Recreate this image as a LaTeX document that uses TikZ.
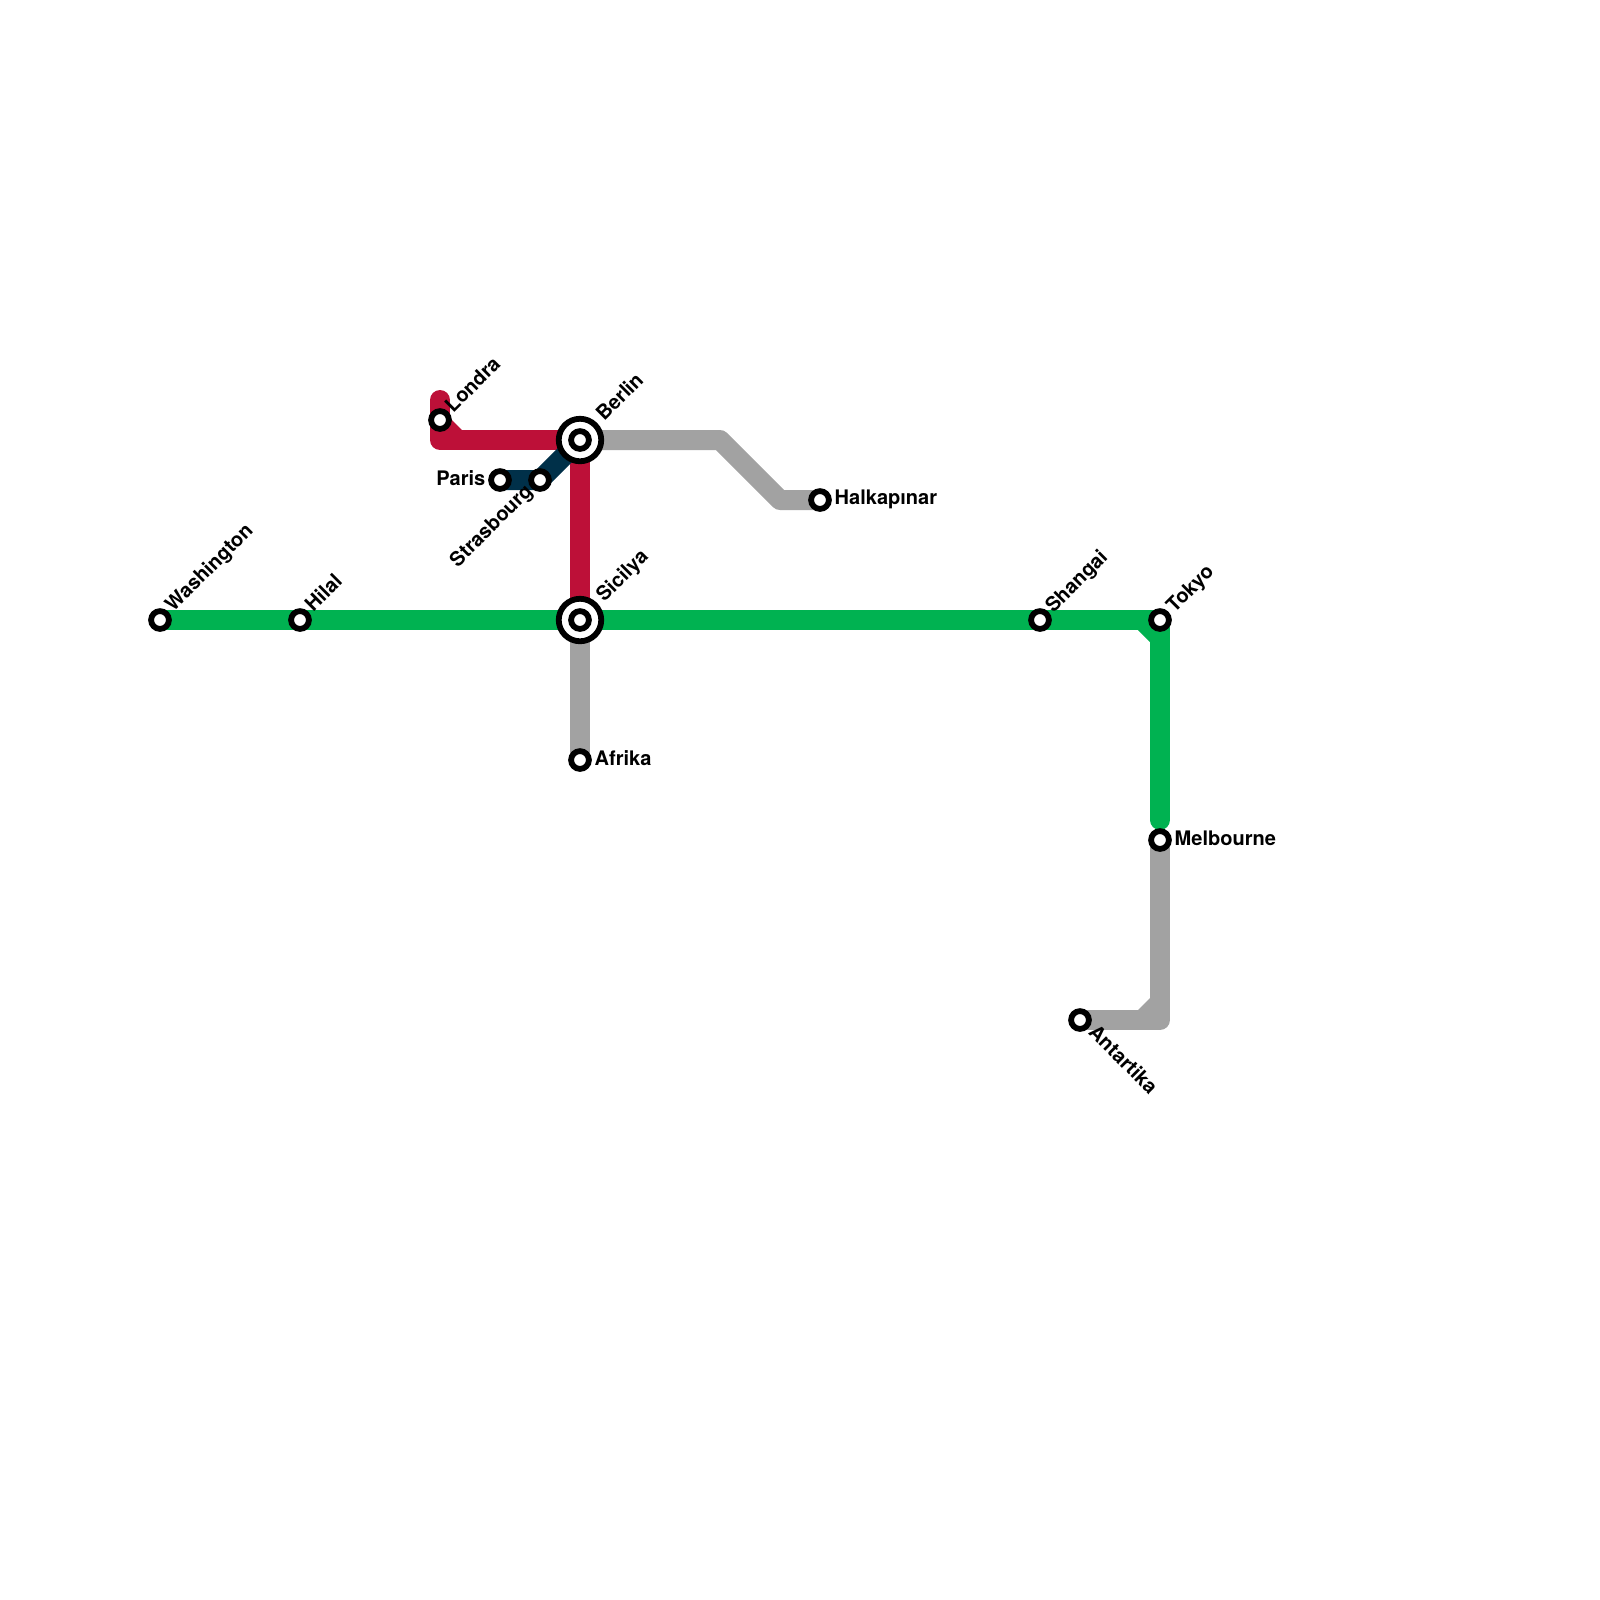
\documentclass[tikz,border=0pt]{standalone}
\usepackage{fontspec}
\setmainfont{TeX Gyre Heros}
\usetikzlibrary{backgrounds}

\definecolor{linered}{HTML}{BD1038}
\definecolor{linegreen}{HTML}{00B251}
\definecolor{linegray}{HTML}{A2A2A2}
\definecolor{linenavy}{HTML}{003049}

\tikzset{
  stop/.style={circle, draw=black, fill=white, line width=0.058cm, minimum size=0.178cm, inner sep=0pt},
  hub/.style={circle, draw=black, fill=white, line width=0.058cm, minimum size=0.425cm, inner sep=0pt},
  track/.style={line width=0.2cm, line join=round, line cap=round},
  stoplabel/.style={font=\fontsize{5.7}{6}\selectfont\bfseries, inner sep=0pt},
}

\begin{document}
\begin{tikzpicture}[x=0.2cm, y=-0.2cm]
  \useasboundingbox (0,0) rectangle (80,80);
  % Interchanges first, plain stops on top.
  \node[hub] (berlinring) at (29,22) {};
  \node[hub] (sicilyaring) at (29,31) {};
  \node[stop] (washington) at (8,31) {};
  \node[stop] (hilal) at (15,31) {};
  \node[stop] (sicilya) at (29,31) {};
  \node[stop] (shangai) at (52,31) {};
  \node[stop] (tokyo) at (58,31) {};
  \node[stop] (melbourne) at (58,42) {};
  \node[stop] (antartika) at (54,51) {};
  \node[stop] (afrika) at (29,38) {};
  \node[stop] (berlin) at (29,22) {};
  \node[stop] (londra) at (22,21) {};
  \node[stop] (paris) at (25,24) {};
  \node[stop] (strasbourg) at (27,24) {};
  \node[stop] (halkapinar) at (41,25) {};
  % Bends of the lines.
  \coordinate (redtop) at (22,20);
  \coordinate (redcorner) at (22,22);
  \coordinate (graybendA) at (36,22);
  \coordinate (graybendB) at (39,25);
  \coordinate (graycorner) at (58,51);
  \coordinate (greenend) at (58,41);
  % Lines, behind the stations.
  \begin{scope}[on background layer]
    \draw[track, linegray] (berlin.center) -- (graybendA) -- (graybendB) -- (halkapinar.center);
    \draw[track, linegray] (sicilya.center) -- (afrika.center);
    \draw[track, linegray] (melbourne.center) -- (graycorner) -- (antartika.center);
    \fill[linegray] (graycorner) ++(-1.15,-0.45) -- ++(0.65,-0.65) -- ++(0,0.65) -- cycle;
    \draw[track, linered] (redtop) -- (redcorner) -- (berlin.center);
    \fill[linered] (redcorner) ++(0.45,-1.15) -- ++(0.7,0.7) -- ++(-0.7,0) -- cycle;
    \draw[track, linered] (berlin.center) -- (sicilya.center);
    \draw[track, linenavy] (paris.center) -- (strasbourg.center) -- (berlin.center);
    \draw[track, linegreen] (washington.center) -- (tokyo.center) -- (greenend);
    \fill[linegreen] (tokyo.center) ++(-1.15,0.45) -- ++(0.65,0.65) -- ++(0,-0.65) -- cycle;
  \end{scope}
  % Labels.
  \node[stoplabel, rotate=45, anchor=base west] (lblwashington) at (8.65,30.65) {Washington};
  \node[stoplabel, rotate=45, anchor=base west] (lblhilal) at (15.65,30.65) {Hilal};
  \node[stoplabel, rotate=45, anchor=base west] (lblsicilya) at (30.2,30.15) {Sicilya};
  \node[stoplabel, rotate=45, anchor=base west] (lblshangai) at (52.65,30.7) {Shangai};
  \node[stoplabel, rotate=45, anchor=base west] (lbltokyo) at (58.7,30.7) {Tokyo};
  \node[stoplabel, rotate=45, anchor=base west] (lblberlin) at (30.2,21.1) {Berlin};
  \node[stoplabel, rotate=45, anchor=base west] (lbllondra) at (22.65,20.7) {Londra};
  \node[stoplabel, rotate=45, anchor=base east] (lblstrasbourg) at (26.7,24.6) {Strasbourg};
  \node[stoplabel, rotate=-45, anchor=base west] (lblantartika) at (54.35,51.65) {Antartika};
  \node[stoplabel, anchor=base west] (lblmelbourne) at (58.7,42.25) {Melbourne};
  \node[stoplabel, anchor=base west] (lblafrika) at (29.7,38.25) {Afrika};
  \node[stoplabel, anchor=base west] (lblhalkapinar) at (41.7,25.2) {Halkapınar};
  \node[stoplabel, anchor=base east] (lblparis) at (24.3,24.25) {Paris};
\end{tikzpicture}
\end{document}
